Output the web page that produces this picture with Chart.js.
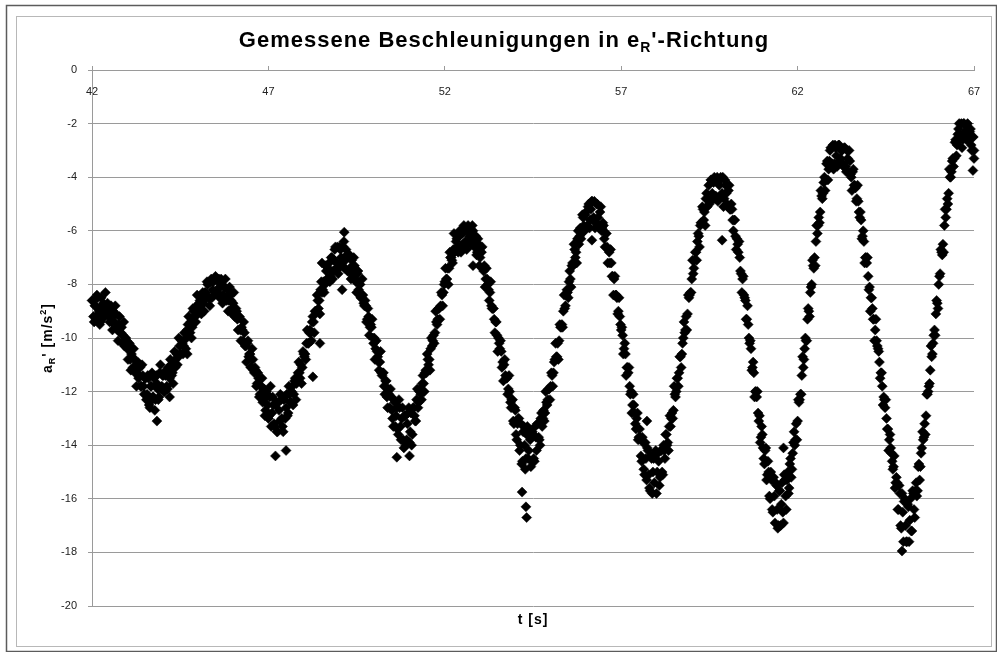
<!DOCTYPE html>
<html>
<head>
  <meta charset="utf-8">
  <title>Gemessene Beschleunigungen in eR'-Richtung</title>
  <script src="https://cdn.jsdelivr.net/npm/chart.js"></script>
  <style>
    body {
      margin: 0;
      background: #fff;
    }
    #wrap {
      width: 997px;
      height: 652px;
    }
  </style>
</head>
<body>
  <div id="wrap">
    <canvas id="accelChart" width="997" height="652"></canvas>
  </div>

  <script>
    // ------------------- DATA --------------------
    // samples every 0.04 s starting at t = 42 s, values in m/s^2
    const tStart = 42;
    const tStep = 0.04;
    const accel = [
      -8.6, -9.2, -8.8, -9.3, -8.5, -9.0, -9.4, -8.8,
      -8.7, -9.2, -8.8, -8.7, -9.2, -9.1, -9.4, -9.0, -9.4, -9.1, -9.7, -9.5, -9.8, -9.6, -9.9, -10.3, -10.0, -10.4,
      -10.3, -10.8, -10.6, -11.1, -10.8, -11.2, -11.0, -11.5, -11.1, -11.8, -11.4, -12.1, -11.5, -12.1, -11.5, -12.4, -11.8, -12.2,
      -11.5, -12.3, -11.7, -12.3, -11.3, -11.9, -11.4, -12.0, -11.4, -11.8, -11.1, -11.5, -11.0, -11.3, -10.9, -11.1, -10.6, -10.7,
      -10.3, -10.6, -10.2, -10.3, -9.8, -10.0, -9.5, -9.8, -9.4, -9.6, -9.0, -9.2, -8.8, -9.1, -8.7, -8.9, -8.4, -8.7, -8.3, -8.5,
      -8.0, -8.5, -7.9, -8.5, -7.9, -8.3, -7.8, -8.2,
      -7.8, -8.4, -8.0, -8.4, -8.1, -8.5, -8.2, -8.6, -8.4, -8.9, -8.7, -9.2, -8.9, -9.3, -9.2, -9.7, -9.6, -10.1, -9.8, -10.3,
      -10.2, -10.7, -10.6, -11.1, -10.8, -11.3, -11.2, -11.7, -11.5, -12.1, -11.8, -12.4, -11.9, -12.7, -12.1, -13.0, -12.2, -13.3,
      -12.2, -13.2, -12.5, -13.5, -12.4,
      -13.1, -12.3, -13.3, -12.3, -13.0, -12.1, -12.8, -12.1, -12.4, -11.8, -12.1, -11.5, -11.7, -11.3, -11.3, -11.0, -11.1, -10.6,
      -10.6, -10.2, -10.2, -9.8, -9.8, -9.4, -9.4, -9.0, -9.0, -8.6, -8.6, -8.2, -8.3, -7.9, -8.0, -7.5, -7.8, -7.2, -7.7, -7.0,
      -7.5, -6.7, -7.4, -6.6, -7.4, -6.7, -7.2,
      -6.6, -7.4, -6.7, -7.5, -6.9, -7.5, -7.1, -7.7, -7.3, -7.9, -7.6, -8.2, -8.0, -8.5, -8.4, -8.8, -8.8, -9.3, -9.2, -9.6,
      -9.6, -10.0, -10.0, -10.4, -10.5, -10.9, -10.9, -11.3, -11.3, -11.8, -11.6, -12.2, -11.9, -12.6, -12.2, -13.0, -12.3, -13.3,
      -12.6, -13.6, -12.6, -13.8, -12.6, -14.1, -12.9, -13.8,
      -12.8, -13.9, -12.8, -13.6, -12.6, -13.1, -12.3, -12.6, -12.0, -12.1, -11.7, -11.7, -11.3, -11.3, -10.8, -10.8, -10.4, -10.3,
      -9.9, -9.8, -9.4, -9.3, -8.9, -8.8, -8.4, -8.3, -7.9, -7.8, -7.4, -7.4, -7.0, -7.1, -6.7, -6.8, -6.4, -6.6, -6.2, -6.6,
      -6.0, -6.5, -5.9, -6.5, -6.0, -6.4,
      -5.9, -6.5, -6.0, -6.6, -6.2, -6.8, -6.5, -7.0, -6.8, -7.4, -7.3, -7.8, -7.8, -8.2, -8.3, -8.8, -8.9, -9.3, -9.4, -9.9,
      -10.0, -10.4, -10.5, -10.9, -11.0, -11.4, -11.5, -11.9, -12.0, -12.6, -12.3, -13.2, -12.7, -13.8, -13.0, -14.2, -13.2, -14.6,
      -13.3, -14.9, -13.6, -14.5,
      -13.5, -14.8, -13.5, -14.5, -13.3, -14.2, -13.2, -13.8, -13.0, -13.3, -12.7, -12.8, -12.4, -12.3, -11.9, -11.8, -11.4, -11.3,
      -10.8, -10.7, -10.2, -10.1, -9.6, -9.5, -9.0, -8.9, -8.4, -8.3, -7.9, -7.8, -7.3, -7.3, -6.7, -6.8, -6.3, -6.5, -5.9, -6.1,
      -5.5, -6.0, -5.3, -5.8, -5.0, -5.6, -4.9, -5.6,
      -4.9, -5.7, -5.0, -5.8, -5.3, -6.0, -5.7, -6.3, -6.1, -6.6, -6.7, -7.2, -7.2, -7.7, -7.8, -8.4, -8.5, -9.0, -9.2, -9.7,
      -9.9, -10.4, -10.6, -11.1, -11.3, -11.8, -12.0, -12.5, -12.5, -13.2, -13.0, -13.8, -13.4, -14.4, -13.7, -14.9, -13.9, -15.3,
      -14.2, -15.6, -14.4, -15.8, -14.5,
      -14.3, -15.8, -14.3, -15.5, -14.2, -15.0, -14.0, -14.5, -13.6, -13.9, -13.3, -13.3, -12.8, -12.7, -12.1, -12.0, -11.5, -11.3,
      -10.7, -10.6, -10.0, -9.8, -9.2, -9.1, -8.5, -8.3, -7.8, -7.6, -7.1, -6.8, -6.4, -6.2, -5.8, -5.7, -5.2, -5.3, -4.8, -5.1,
      -4.3, -4.9, -4.1, -4.8, -4.0, -4.7,
      -4.0, -4.8, -4.1, -4.7, -4.0, -4.8, -4.3, -5.0, -4.5, -5.2, -5.0, -5.6, -5.6, -6.2, -6.3, -6.8, -7.0, -7.6, -7.8, -8.4,
      -8.6, -9.3, -9.5, -10.2, -10.4, -11.1, -11.3, -12.0, -12.2, -12.8, -12.9, -13.7, -13.6, -14.5, -14.2, -15.3, -14.6, -15.9,
      -15.0, -16.4, -15.2, -16.9, -15.5, -17.1, -15.7,
      -17.0, -15.4, -16.9, -15.3, -16.4, -15.0, -15.6, -14.5, -14.9, -13.9, -14.0, -13.2, -13.1, -12.4, -12.1, -11.4, -11.1, -10.4,
      -10.1, -9.3, -9.0, -8.3, -8.0, -7.3, -7.0, -6.4, -6.1, -5.5, -5.3, -4.7, -4.6, -4.0, -4.1, -3.4, -3.7, -3.0, -3.6, -2.8,
      -3.5,
      -2.9, -3.6, -2.8, -3.4, -3.0, -3.5,
      -2.9, -3.6, -3.0, -3.8, -3.4, -4.0, -3.8, -4.3, -4.4, -4.8, -4.9, -5.5, -5.6, -6.2, -6.4, -7.0, -7.2, -7.7, -8.1, -8.5,
      -8.9, -9.3, -9.7, -10.1, -10.4, -10.9, -11.3, -11.8, -12.2, -12.6, -13.0, -13.4, -13.8, -14.1, -14.6, -14.8, -15.6, -15.2,
      -16.4, -15.5, -17.0, -15.8, -17.6, -16.0, -17.6, -16.2,
      -17.6, -16.0, -17.2, -15.8, -16.7, -15.4, -15.7, -14.7, -14.8, -14.1, -13.8, -13.2, -12.9, -12.1, -11.8, -11.2, -10.7, -10.2,
      -9.7, -9.1, -8.7, -8.0, -7.6, -6.8, -6.5, -5.8, -5.5, -4.8, -4.6, -4.0, -3.8, -3.3, -3.3, -2.6, -2.8, -2.2, -2.6, -2.0,
      -2.6,
      -2.0, -2.5, -2.1, -2.6, -2.3, -2.8, -2.5, -3.0
    ];

    // the samples lying in between (t = 42.02 s, 42.06 s, ...)
    const tMidStart = 42.02;
    const accelMid = [
      -8.6, -9.4, -8.8, -8.4, -9.1, -9.5, -8.5, -8.9, -9.2, -8.3, -9.0, -8.8, -9.4, -8.8, -9.7, -9.1, -8.8, -9.6, -10.1, -9.2,
      -9.8, -10.2, -9.4, -10.2, -10.1, -10.8, -10.2, -11.2, -10.7, -10.4, -11.3, -11.8, -10.9, -11.4, -11.8, -11.0, -11.8, -11.5, -12.3, -11.4,
      -12.5, -11.8, -11.3, -12.2, -12.7, -11.4, -11.9, -12.2, -11.0, -11.8, -11.4, -12.0, -11.2, -11.9, -11.3, -10.8, -11.4, -11.7, -10.5, -10.8,
      -11.0, -10.0, -10.6, -10.1, -10.6, -9.8, -10.4, -9.7, -9.2, -9.8, -10.0, -8.9, -9.2, -9.4, -8.4, -9.0, -8.6, -9.1, -8.3, -9.0,
      -8.3, -7.9, -8.5, -8.8, -7.8, -8.2, -8.4, -7.7, -8.2, -7.9, -8.5, -7.8, -8.7, -8.1, -7.8, -8.6, -9.0, -8.1, -8.6, -9.1,
      -8.3, -9.1, -9.0, -9.7, -9.2, -10.1, -9.7, -9.4, -10.3, -10.9, -10.1, -10.6, -11.1, -10.4, -11.2, -11.1, -11.8, -11.3, -12.2, -11.8,
      -11.5, -12.3, -12.9, -12.0, -12.5, -12.9, -11.8, -12.8, -12.5, -13.3, -12.4, -13.5, -12.7, -12.1, -13.0, -13.5, -12.2, -12.6, -12.9, -11.8,
      -12.4, -12.0, -12.5, -11.6, -12.3, -11.5, -10.9, -11.5, -11.7, -10.5, -10.7, -10.8, -9.7, -10.2, -9.7, -10.1, -9.2, -9.8, -9.0, -8.4,
      -8.9, -9.1, -7.9, -8.2, -8.3, -7.3, -7.8, -7.4, -7.9, -7.0, -7.8, -7.1, -6.6, -7.2, -7.6, -6.6, -7.0, -7.3, -6.4, -7.1,
      -6.9, -7.5, -6.9, -7.8, -7.3, -7.0, -7.8, -8.3, -7.5, -8.0, -8.5, -7.8, -8.7, -8.6, -9.4, -8.9, -9.9, -9.5, -9.3, -10.2,
      -10.8, -10.1, -10.7, -11.2, -10.5, -11.4, -11.3, -12.1, -11.6, -12.6, -12.1, -11.9, -12.7, -13.3, -12.4, -12.9, -13.4, -12.3, -13.3, -13.0,
      -13.8, -12.9, -14.0, -13.2, -12.6, -13.5, -14.0, -12.6, -12.9, -13.1, -11.9, -12.4, -11.9, -12.3, -11.4, -12.0, -11.2, -10.6, -11.0, -11.2,
      -10.0, -10.1, -10.2, -9.0, -9.5, -8.9, -9.3, -8.3, -8.8, -8.0, -7.4, -7.8, -8.0, -6.8, -7.0, -7.2, -6.1, -6.7, -6.3, -6.8,
      -6.0, -6.8, -6.1, -5.8, -6.4, -6.7, -5.8, -6.2, -6.5, -5.8, -6.4, -6.2, -6.9, -6.3, -7.3, -6.8, -6.6, -7.5, -8.1, -7.4,
      -8.0, -8.6, -7.9, -8.9, -8.9, -9.8, -9.4, -10.5, -10.2, -10.1, -11.1, -11.6, -10.8, -11.5, -12.1, -11.4, -12.4, -12.3, -13.1, -12.6,
      -13.6, -13.2, -13.0, -14.0, -14.7, -13.5, -14.0, -14.5, -13.3, -14.2, -13.8, -14.6, -13.6, -14.6, -13.7, -13.2, -13.7, -14.0, -12.8, -13.0,
      -13.1, -12.0, -12.5, -11.9, -12.3, -11.3, -11.8, -10.9, -10.2, -10.7, -10.8, -9.5, -9.6, -9.6, -8.4, -8.8, -8.2, -8.5, -7.5, -8.1,
      -7.2, -6.5, -7.0, -7.2, -6.0, -6.2, -6.3, -5.4, -5.8, -5.4, -5.9, -5.1, -5.9, -5.2, -4.9, -5.5, -5.9, -5.0, -5.5, -5.9,
      -5.1, -5.9, -5.8, -6.6, -6.1, -7.2, -6.8, -6.7, -7.7, -8.4, -7.7, -8.4, -9.1, -8.5, -9.5, -9.6, -10.6, -10.2, -11.4, -11.1,
      -11.1, -12.1, -12.8, -12.1, -12.8, -13.4, -12.8, -13.7, -13.7, -14.6, -13.9, -15.1, -14.5, -14.1, -15.1, -15.7, -14.5, -15.0, -15.4, -14.2,
      -15.0, -14.6, -15.2, -14.2, -15.1, -14.2, -13.6, -14.0, -14.2, -12.9, -13.0, -13.0, -11.8, -12.2, -11.5, -11.8, -10.7, -11.1, -10.2, -9.4,
      -9.7, -9.7, -8.4, -8.4, -8.3, -7.1, -7.4, -6.8, -7.1, -6.1, -6.6, -5.7, -5.1, -5.6, -5.8, -4.6, -4.8, -5.0, -4.1, -4.6,
      -4.2, -4.8, -4.1, -4.9, -4.3, -4.0, -4.6, -5.1, -4.1, -4.6, -5.1, -4.3, -5.2, -5.2, -6.0, -5.6, -6.7, -6.5, -6.4, -7.5,
      -8.3, -7.7, -8.5, -9.3, -8.8, -10.0, -10.1, -11.2, -10.9, -12.2, -12.0, -12.0, -13.1, -13.9, -13.3, -14.1, -14.7, -14.1, -15.1, -15.0,
      -16.0, -15.3, -16.5, -15.9, -15.4, -16.4, -17.0, -15.7, -16.2, -16.5, -15.1, -15.9, -15.3, -15.8, -14.7, -15.2, -14.3, -13.5, -13.8, -13.8,
      -12.3, -12.3, -12.1, -10.7, -10.8, -10.0, -10.1, -8.9, -9.2, -8.1, -7.1, -7.4, -7.3, -5.8, -5.8, -5.7, -4.5, -4.8, -4.2, -4.5,
      -3.5, -4.1, -3.4, -2.9, -3.5, -3.7, -2.8, -3.2, -3.5, -2.8, -3.3, -3.0, -3.6, -2.9, -3.8, -3.3, -3.0, -3.9, -4.5, -3.7,
      -4.3, -4.9, -4.3, -5.3, -5.3, -6.3, -6.0, -7.2, -7.0, -7.0, -8.2, -9.0, -8.5, -9.3, -10.1, -9.3, -10.3, -10.5, -11.5, -11.3,
      -12.5, -12.3, -12.3, -13.4, -14.2, -13.6, -14.3, -14.9, -14.4, -15.4, -15.4, -16.4, -15.8, -17.1, -16.5, -16.1, -17.0, -17.6, -16.3, -16.8,
      -17.2, -15.7, -16.4, -15.7, -15.9, -14.8, -15.3, -14.3, -13.5, -13.7, -13.6, -12.1, -12.0, -11.7, -10.3, -10.6, -9.9, -9.9, -8.6, -8.9,
      -7.7, -6.7, -6.9, -6.8, -5.2, -5.2, -5.0, -3.7, -4.0, -3.4, -3.6, -2.7, -3.2, -2.4, -2.0, -2.5, -2.9, -2.0, -2.3, -2.6,
      -2.0, -2.4, -2.2, -3.0, -2.5
    ];

    // stray samples away from the main band
    const strayT = [43.64, 43.84, 44.2, 44.7, 47.2, 47.5, 48.26, 48.46, 48.52, 49.09, 49.15, 50.64,
                    51.0, 52.8, 54.19, 54.3, 54.32, 56.17, 57.73, 59.86, 61.6, 64.96, 66.97, 67.0];
    const strayA = [-12.6, -13.1, -12.2, -10.6, -14.4, -14.2, -11.45, -10.2, -7.2, -8.2, -6.05, -14.45,
                    -14.4, -7.3, -15.75, -16.3, -16.7, -6.35, -13.1, -6.35, -14.1, -17.95, -3.75, -3.3];

    const xMin = 42, xMax = 67, xStep = 5;
    const yMin = -20, yMax = 0, yStep = 2;

    const FONT = '"Liberation Sans", Arial, sans-serif';
    const GRID = '#9a9a9a';

    // ------------------- TEXT WITH SUB/SUPERSCRIPTS --------------------
    function drawRich(ctx, parts, x, y, size) {
      const small = Math.round(size * 0.62);
      ctx.letterSpacing = '1px';
      let total = 0;
      parts.forEach(p => {
        ctx.font = 'bold ' + (p.sub || p.sup ? small : size) + 'px ' + FONT;
        p.w = ctx.measureText(p.t).width;
        total += p.w;
      });
      let cx = x - total / 2;
      parts.forEach(p => {
        ctx.font = 'bold ' + (p.sub || p.sup ? small : size) + 'px ' + FONT;
        const dy = p.sub ? size * 0.24 : (p.sup ? -size * 0.42 : 0);
        ctx.fillText(p.t, cx, y + dy);
        cx += p.w;
      });
    }

    const frameAndTitles = {
      id: 'frameAndTitles',
      beforeDraw(chart) {
        const ctx = chart.ctx;
        ctx.save();
        ctx.fillStyle = '#fff';
        ctx.fillRect(0, 0, chart.width, chart.height);
        ctx.strokeStyle = '#5c5c5c';
        ctx.lineWidth = 1.5;
        ctx.strokeRect(6.5, 5.5, 990, 646);
        ctx.strokeStyle = '#b8b8b8';
        ctx.lineWidth = 1;
        ctx.strokeRect(16.5, 16.5, 975, 630);
        ctx.restore();
      },
      afterDraw(chart) {
        const ctx = chart.ctx;
        const area = chart.chartArea;
        ctx.save();
        ctx.fillStyle = '#000';
        ctx.textBaseline = 'alphabetic';
        ctx.textAlign = 'left';

        drawRich(ctx, [
          { t: 'Gemessene Beschleunigungen in e' },
          { t: 'R', sub: true },
          { t: "'-Richtung" }
        ], 504, 47, 22);

        drawRich(ctx, [{ t: 't [s]' }], (area.left + area.right) / 2, 624, 14);

        ctx.translate(52, (area.top + area.bottom) / 2);
        ctx.rotate(-Math.PI / 2);
        drawRich(ctx, [
          { t: 'a' },
          { t: 'R', sub: true },
          { t: "' [m/s" },
          { t: '2', sup: true },
          { t: ']' }
        ], 0, 0, 14);
        ctx.restore();
      }
    };

    // ------------------- CHART --------------------
    const points = accel.map((a, i) => ({ x: tStart + i * tStep, y: a }))
      .concat(accelMid.map((a, j) => ({ x: tMidStart + j * tStep, y: a })))
      .concat(strayT.map((t, i) => ({ x: t, y: strayA[i] })));

    const accelChart = new Chart(document.getElementById('accelChart'), {
      type: 'scatter',
      data: {
        datasets: [{
          data: points,
          pointStyle: 'rectRot',
          pointRadius: 5,
          borderWidth: 0.5,
          backgroundColor: '#000',
          borderColor: '#000',
          clip: false
        }]
      },
      options: {
        responsive: false,
        animation: false,
        layout: { padding: { left: 16, right: 23, top: 62, bottom: 46 } },
        plugins: {
          legend: { display: false },
          tooltip: { enabled: false },
          title: { display: false }
        },
        scales: {
          x: {
            type: 'linear',
            position: 'top',
            min: xMin,
            max: xMax,
            ticks: {
              stepSize: xStep,
              mirror: true,
              padding: 15,
              maxRotation: 0,
              color: '#222',
              font: { family: FONT, size: 11 }
            },
            grid: { drawOnChartArea: false, tickLength: 4, color: GRID },
            border: { color: GRID },
            afterFit: (s) => { s.height = 8; }
          },
          y: {
            min: yMin,
            max: yMax,
            ticks: {
              stepSize: yStep,
              padding: 11,
              color: '#222',
              font: { family: FONT, size: 11 }
            },
            grid: { tickLength: 4, color: GRID },
            border: { color: GRID },
            afterFit: (s) => { s.width = 76; }
          }
        }
      },
      plugins: [frameAndTitles]
    });
  </script>
</body>
</html>
